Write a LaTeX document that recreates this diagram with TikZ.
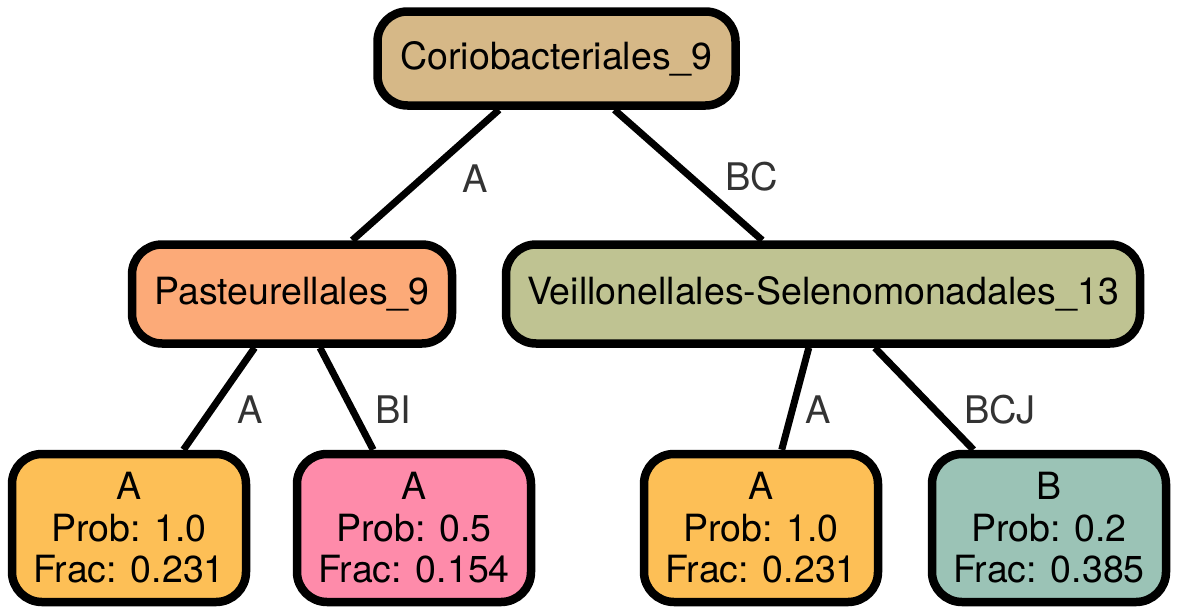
\documentclass[tikz,border=0pt]{standalone}
\usepackage{fontspec}
\setmainfont{TeX Gyre Heros}
\usetikzlibrary{backgrounds}
\definecolor{rootc}{HTML}{D6B887}
\definecolor{pastc}{HTML}{FCAA78}
\definecolor{veilc}{HTML}{BFC392}
\definecolor{leafa}{HTML}{FDBF56}
\definecolor{leafp}{HTML}{FE8BAA}
\definecolor{leafb}{HTML}{9BC3B6}
\definecolor{labc}{HTML}{333333}
\begin{document}
\begin{tikzpicture}[x=1pt,y=-1pt,
  box/.style={draw=black, line width=8.5pt, rounded corners=30pt, inner sep=0pt,
    font=\fontsize{37.5}{41.5}\selectfont, align=center},
  leaf/.style={box, minimum width=234pt, minimum height=148pt},
  mid/.style={box, minimum height=99pt},
  elab/.style={text=labc, font=\fontsize{38}{42}\selectfont, inner sep=0pt},
  conn/.style={line width=7pt}]
\useasboundingbox (0,0) rectangle (1178,613);
\node[box, fill=rootc, minimum width=358pt, minimum height=94pt] (root) at (556.5,58.5) {Coriobacteriales\_9};
\node[mid, fill=pastc, minimum width=320pt] (past) at (292,294) {Pasteurellales\_9};
\node[mid, fill=veilc, minimum width=634pt] (veil) at (823,294) {Veillonellales-Selenomonadales\_13};
\node[leaf, fill=leafa] (l1) at (129,528) {A\\Prob: 1.0\\Frac: 0.231};
\node[leaf, fill=leafp] (l2) at (414,528) {A\\Prob: 0.5\\Frac: 0.154};
\node[leaf, fill=leafa] (l3) at (761,528) {A\\Prob: 1.0\\Frac: 0.231};
\node[leaf, fill=leafb] (l4) at (1049,528) {B\\Prob: 0.2\\Frac: 0.385};
\begin{scope}[on background layer]
\draw[conn] (root) -- (past);
\draw[conn] (root) -- (veil);
\draw[conn] (past) -- (l1);
\draw[conn] (past) -- (l2);
\draw[conn] (veil) -- (l3);
\draw[conn] (veil) -- (l4);
\end{scope}
\node[elab] (ea) at (475,179) {A};
\node[elab] (ebc) at (752,177) {BC};
\node[elab] (eA1) at (250,410) {A};
\node[elab] (ebi) at (393,410) {BI};
\node[elab] (eA2) at (818,410) {A};
\node[elab] (ebcj) at (1000,410) {BCJ};
\end{tikzpicture}
\end{document}
